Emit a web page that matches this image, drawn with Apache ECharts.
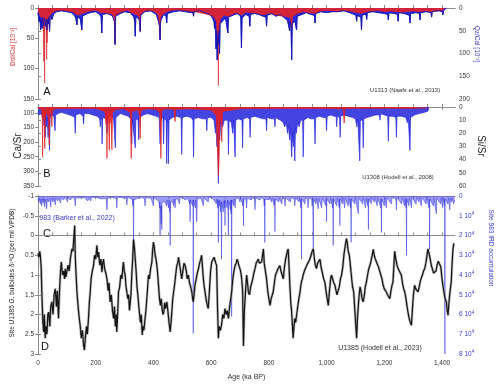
<!DOCTYPE html>
<html>
<head>
  <meta charset="utf-8">
  <script type="text/javascript" src="https://cdn.jsdelivr.net/npm/echarts@6/dist/echarts.min.js"></script>
  <style type="text/css">
    * { margin: 0; padding: 0; }
    html, body, #main { width: 500px; height: 386px; overflow: hidden; background: #fff; }
  </style>
</head>
<body>
  <div id="main"></div>
  <script type="text/javascript">
    // tick positions (ka) and label values
    var ageTicks = [0,50,100,150,200,250,300,350,400,450,500,550,600,650,700,750,800,850,900,950,1000,1050,1100,1150,1200,1250,1300,1350,1400];
    var ageLabels = [0,200,400,600,800,1000,1200,1400];
    var dolTicks = [0,50,100,150];
    var qzTicks = [0,50,100,150,200];
    var caTicks = [100,150,200,250,300,350];
    var siTicks = [0,10,20,30,40,50,60];
    var d18Ticks = [-1,-0.5,0,0.5,1,1.5,2,2.5,3];
    var irdTicks = [0,10000,20000,30000,40000,50000,60000,70000,80000];

    // A: U1313 Dol/Cal (left, 10^-3) and Qz/Cal (right, 10^-3)
    var dolA = [[0,4],[5,10],[10,15],[14,12],[17,18],[19,30],[20,88],[21,30],[22,40],[23,124],[24,35],[27,15],[29,30],[30,85],[31,30],[32,57],[33,20],[37,12],[39,20],[40,39],[41,12],[50,8],[60,5],[80,4],[100,5],[120,6],[130,10],[140,12],[150,10],[160,8],[180,5],[200,4],[220,8],[240,9],[255,10],[262,14],[265,20],[267,60],[269,12],[290,6],[310,4],[330,9],[340,11],[350,14],[353,25],[354,40],[356,10],[375,4],[400,5],[415,10],[420,20],[423,52],[425,15],[440,8],[460,4],[480,3],[500,4],[520,5],[540,6],[560,8],[580,10],[600,12],[610,15],[618,22],[622,50],[624,80],[625,128],[626,60],[628,30],[632,18],[645,12],[660,14],[675,10],[690,8],[705,12],[720,7],[740,8],[760,9],[780,11],[800,9],[820,11],[840,13],[860,14],[875,16],[879,35],[882,14],[900,9],[920,6],[940,8],[960,9],[980,5],[1000,4],[1020,5],[1040,6],[1060,4],[1080,5],[1100,7],[1120,9],[1140,6],[1160,5],[1180,4],[1200,6],[1220,5],[1240,6],[1260,7],[1280,6],[1300,5],[1320,6],[1340,5],[1360,6],[1380,5],[1400,4],[1410,0]];
    var qzA = [[0,10],[4,30],[7,20],[9,48],[11,25],[14,45],[16,20],[20,40],[22,22],[25,30],[27,40],[29,25],[31,48],[33,25],[36,35],[38,20],[40,51],[42,18],[48,25],[55,12],[65,8],[80,6],[100,8],[115,10],[125,15],[131,22],[135,37],[137,18],[147,25],[152,48],[154,18],[165,14],[180,10],[200,8],[215,15],[219,20],[221,55],[223,14],[240,12],[255,16],[262,22],[265,30],[267,80],[269,18],[285,12],[300,8],[320,10],[332,20],[335,28],[337,62],[339,18],[350,25],[352,30],[354,51],[356,16],[370,8],[390,6],[410,14],[418,30],[421,40],[423,70],[425,28],[435,14],[444,18],[446,33],[448,12],[470,8],[490,6],[510,8],[530,10],[537,10],[539,18],[541,8],[560,6],[580,10],[595,14],[605,22],[610,30],[612,45],[614,30],[617,90],[619,50],[621,114],[623,60],[625,80],[627,50],[629,100],[631,35],[640,28],[650,22],[656,25],[658,55],[660,20],[675,16],[690,12],[700,16],[703,22],[705,88],[707,22],[720,14],[732,18],[734,40],[736,14],[750,12],[765,14],[780,18],[790,20],[792,40],[794,16],[810,12],[825,18],[840,14],[855,22],[865,28],[870,30],[872,50],[874,30],[877,40],[879,114],[881,35],[890,28],[894,30],[896,48],[898,18],[915,14],[930,10],[945,14],[958,16],[960,33],[962,12],[980,8],[1000,10],[1020,8],[1039,8],[1041,11],[1060,6],[1080,10],[1095,14],[1102,16],[1104,29],[1106,16],[1119,20],[1121,48],[1123,15],[1137,14],[1139,25],[1141,10],[1160,8],[1180,10],[1200,12],[1212,14],[1214,26],[1216,10],[1235,12],[1246,14],[1248,29],[1250,10],[1270,12],[1287,16],[1289,33],[1291,12],[1310,10],[1322,12],[1324,26],[1326,10],[1345,8],[1362,10],[1364,20],[1366,8],[1390,6],[1401,8],[1403,15],[1405,6],[1410,5],[1415,0]];

    // B: U1308 Ca/Sr (left) and Si/Sr (right)
    var caB = [[0,84],[10,86],[13,95],[15,120],[16,251],[17,110],[20,105],[22,130],[23.5,222],[25,110],[33,100],[37,130],[39,210],[41,105],[46,95],[48,147],[50,92],[60,86],[100,85],[200,85],[232,95],[236,140],[238,120],[239,256],[240,110],[243,115],[245,140],[247,228],[249,120],[252,125],[254,140],[256,226],[258,100],[270,88],[300,86],[320,100],[323,256],[325,95],[345,90],[352,110],[354,187],[356,92],[380,86],[410,88],[422,100],[425,200],[426,256],[428,95],[440,86],[472,88],[475,130],[477,88],[520,86],[560,88],[600,90],[618,110],[621,200],[623,250],[625,314],[627,280],[629,150],[632,110],[635,140],[637,199],[639,95],[700,86],[800,85],[900,85],[1000,85],[1058,86],[1061,135],[1063,86],[1100,84],[1200,84],[1300,84],[1352,83]];
    var siB = [[0,4],[3,6],[6,5],[9,7],[12,5],[15,8],[18,6],[21,14],[23,7],[25,23],[27,9],[30,15],[32,8],[35,23],[37,10],[40,33],[42,8],[48,6],[55,7],[59,18],[61,6],[70,5],[80,4],[95,5],[110,6],[120,7],[127,8],[129,20],[131,6],[145,5],[156,7],[158,13],[160,5],[175,5],[190,6],[205,7],[214,9],[216,15],[218,8],[221,10],[222,28],[224,8],[237,9],[239,20],[241,8],[252,7],[262,9],[266,10],[268,31],[270,8],[285,5],[300,6],[312,7],[323,9],[325,28],[327,9],[333,8],[337,31],[339,9],[347,10],[349,25],[351,8],[365,6],[380,5],[395,6],[410,7],[420,8],[423,28],[425,9],[433,8],[435,28],[437,9],[444,10],[446,43],[448,10],[450,12],[452,43],[454,10],[465,8],[480,7],[496,8],[498,36],[500,8],[515,7],[530,8],[537,10],[539,38],[541,9],[555,8],[570,9],[583,9],[585,18],[587,8],[600,8],[610,10],[615,20],[618,12],[620,30],[622,15],[625,58],[627,20],[630,25],[633,12],[640,15],[645,10],[658,10],[660,36],[662,10],[670,12],[675,20],[678,10],[681,10],[683,38],[685,10],[695,9],[707,10],[709,31],[711,9],[725,8],[733,9],[735,23],[737,8],[750,7],[765,8],[780,9],[790,9],[792,18],[794,8],[810,9],[819,9],[821,15],[823,8],[840,10],[850,12],[855,15],[860,12],[865,20],[868,14],[872,25],[875,16],[879,38],[882,20],[885,30],[887,18],[890,41],[892,16],[895,20],[900,12],[905,15],[910,10],[917,10],[919,38],[921,10],[935,8],[945,9],[958,9],[960,28],[962,8],[975,7],[990,8],[998,8],[1000,18],[1002,7],[1015,6],[1025,7],[1033,7],[1035,15],[1037,7],[1045,8],[1047,23],[1049,7],[1060,6],[1075,7],[1090,8],[1100,9],[1105,15],[1108,9],[1113,10],[1115,41],[1117,10],[1125,10],[1127,31],[1129,9],[1140,8],[1155,7],[1170,6],[1183,6],[1185,10],[1187,5],[1200,6],[1212,7],[1214,26],[1216,7],[1230,7],[1240,8],[1242,23],[1244,7],[1260,7],[1275,8],[1280,12],[1283,8],[1287,9],[1289,33],[1291,8],[1305,6],[1320,5],[1324,5],[1340,4],[1352,3],[1353,0]];

    // C: Site 983 IRD accumulation
    var irdC = [[0,1500],[3,3000],[5,1000],[8,4000],[10,1500],[13,5000],[15,1500],[18,3500],[20,1000],[23,5500],[25,1500],[28,4000],[30,6500],[32,1500],[36,3000],[40,1000],[44,5500],[46,1500],[52,3000],[55,1000],[60,4500],[62,1000],[68,2500],[72,1000],[78,3500],[80,1000],[88,2000],[95,800],[102,3000],[104,800],[112,2000],[118,3000],[120,800],[127,1500],[129,5000],[131,1000],[145,1000],[160,800],[173,2500],[175,3500],[177,800],[183,2500],[185,800],[200,600],[220,1500],[222,600],[236,1200],[239,7000],[241,1000],[255,800],[271,1200],[273,6000],[275,800],[290,800],[306,1200],[308,4500],[310,800],[320,1200],[327,2000],[329,5000],[330,1500],[331,27000],[332,2000],[345,1200],[360,800],[369,1500],[371,5000],[373,800],[392,1200],[398,1200],[400,5000],[402,800],[412,2000],[415,3000],[419,2500],[421,6000],[422,3000],[423,20000],[424,5000],[426,8000],[427,14000],[428,5000],[429,17000],[430,3000],[435,2500],[440,3000],[443,2000],[445,5000],[447,2000],[452,6000],[454,2000],[456,8000],[457,3000],[458,25000],[459,3000],[464,2000],[466,3000],[470,5000],[472,1500],[475,6000],[477,1500],[485,1500],[490,4000],[492,1000],[500,800],[510,2000],[520,1200],[524,2000],[525,4000],[526,2000],[527,13000],[528,2000],[532,2500],[536,5000],[537,2000],[538,69500],[539,2000],[545,6000],[547,2000],[550,13000],[552,1500],[565,1200],[573,5000],[575,1000],[590,3000],[592,800],[600,800],[610,2000],[612,1000],[618,4000],[620,1500],[623,6000],[624,2000],[625,23500],[626,2500],[628,5000],[630,2000],[632,8000],[634,3000],[636,32000],[637,3000],[640,2500],[642,8000],[644,2500],[646,6000],[647,2000],[648,15000],[649,2500],[653,2000],[655,6000],[657,2000],[660,20000],[661,2500],[665,2000],[667,7000],[668,2000],[669,9000],[670,2000],[671,61000],[672,2000],[678,5000],[680,1500],[683,6000],[685,1500],[695,1000],[700,3000],[702,800],[710,5000],[711,1500],[712,15000],[713,1500],[720,1500],[723,6000],[725,1200],[740,2000],[742,800],[750,1500],[752,7000],[754,1000],[770,2000],[772,800],[782,1500],[784,5000],[785,1500],[786,23500],[787,1500],[800,2000],[802,800],[810,3000],[812,1000],[819,5000],[820,1500],[821,18000],[822,1500],[835,3000],[837,1000],[845,4000],[847,1000],[854,1500],[856,5000],[858,1000],[875,3000],[877,800],[888,1500],[890,5000],[892,1000],[905,3000],[907,1000],[911,6000],[912,1500],[913,32000],[914,1500],[925,4000],[927,1000],[934,1500],[936,6000],[938,1000],[948,1500],[950,5000],[952,1500],[954,27000],[955,1500],[963,4000],[965,1000],[971,6500],[973,1200],[983,6000],[985,1000],[990,2000],[998,5000],[999,1500],[1000,13000],[1001,1500],[1012,4000],[1014,1000],[1021,6000],[1022,1500],[1023,25000],[1024,1500],[1035,5000],[1037,1000],[1044,6000],[1045,1500],[1046,15000],[1047,1500],[1055,4000],[1057,1000],[1063,6000],[1065,1000],[1075,5000],[1077,1000],[1083,6000],[1084,1500],[1085,23500],[1086,1500],[1098,4000],[1100,1000],[1110,9000],[1112,1000],[1125,4000],[1127,1000],[1135,6000],[1137,1000],[1143,5000],[1144,1500],[1145,17000],[1146,1500],[1155,4000],[1157,1000],[1165,3000],[1167,800],[1175,5000],[1177,1000],[1188,6000],[1189,1500],[1190,18500],[1191,1500],[1200,5000],[1202,1000],[1207,6000],[1209,1000],[1225,4000],[1227,800],[1240,1500],[1242,7000],[1244,800],[1260,4000],[1262,800],[1270,5000],[1272,1000],[1275,6000],[1276,1500],[1277,30000],[1278,1500],[1285,5000],[1287,1000],[1294,6000],[1296,800],[1310,4000],[1312,800],[1320,3000],[1322,800],[1328,5000],[1330,800],[1345,4000],[1347,800],[1355,6000],[1356,1500],[1357,27000],[1358,1500],[1370,5000],[1372,1000],[1380,9000],[1382,1000],[1395,4000],[1397,1000],[1402,6000],[1404,1000],[1408,5000],[1409,1500],[1410,80000],[1411,1500],[1420,4000],[1422,1000],[1427,7000],[1429,1000],[1433,3000],[1435,800],[1440,4000],[1444,2000]];

    // D: U1385 G. bulloides d18O (per mil VPDB)
    var d18D = [[0,0.45],[3,0.55],[6,0.4],[8,0.5],[11,0.8],[14,1.6],[17,2.2],[19.5,2.44],[22,2.0],[25,2.6],[28,2.3],[31,2.5],[34,2.0],[37,1.94],[41,2.3],[44,1.8],[48,1.68],[52,2.0],[56,1.5],[60,1.35],[64,1.8],[67,1.4],[71,2.1],[74,1.5],[78,0.9],[81,0.67],[85,1.0],[89,0.9],[92,1.1],[94.5,0.84],[97,1.05],[100,1.0],[104,0.75],[108,0.9],[112,0.6],[115,0.45],[117.6,0.34],[121,0.4],[124,0.1],[127,-0.25],[129,0.5],[132,1.0],[135,1.43],[139,1.8],[143,2.1],[146,2.27],[150,2.6],[154,2.4],[158,2.78],[161,2.9],[164,2.6],[168,2.3],[171,2.5],[175,2.1],[178,1.7],[181,1.43],[184,1.1],[188,0.9],[192.5,0.76],[196,0.5],[200,0.6],[204,0.25],[207,0.55],[210,0.42],[214,0.75],[218,0.6],[221.5,0.93],[224,0.7],[227,0.6],[231,0.85],[235,0.95],[239,1.1],[243,1.4],[246,1.2],[250,1.68],[254,1.5],[258,1.9],[262,2.1],[265,1.8],[268,2.3],[271,2.0],[273,2.44],[276,2.0],[279,1.43],[283,1.3],[287,1.0],[291,1.1],[294,0.8],[296,0.67],[299,0.9],[302,1.0],[305,1.3],[308,1.43],[311,1.6],[314,1.5],[317,1.9],[319.5,1.94],[322,1.5],[325,1.0],[328,0.6],[331,0.1],[334,0.3],[337,0.6],[340,0.9],[343,1.3],[346,1.5],[349,1.77],[352,2.0],[355,2.2],[358,2.0],[361,2.52],[364,2.3],[367,2.4],[371,2.1],[374,1.9],[377,1.6],[380,1.3],[383,1.0],[386,1.1],[390,0.85],[394.6,0.67],[397,0.4],[400,0.17],[403,0.3],[406,0.5],[409,0.6],[412,0.76],[415,1.0],[418,1.3],[421,1.6],[424,1.77],[427,1.6],[430,1.85],[433,2.0],[436,1.94],[439,1.7],[442,1.85],[446.5,1.68],[450,1.9],[454,2.2],[458,2.44],[461,2.2],[464,1.9],[467,1.6],[470,1.43],[474,1.2],[477,1.0],[481,0.76],[484,0.7],[487,0.55],[490,0.6],[494,0.9],[498,1.1],[502,0.9],[506,0.7],[510,0.76],[514,0.9],[517,1.1],[521,1.0],[525,1.2],[529,1.3],[533,1.43],[536,1.6],[538,1.68],[541,1.5],[544,1.26],[548,1.1],[552,0.95],[556,0.84],[560,0.7],[564,0.6],[567,0.5],[570,0.8],[573,1.1],[576,1.3],[579,1.43],[582,1.6],[586,1.75],[590,1.85],[594,1.4],[598,0.9],[602,0.67],[606,0.7],[610,0.55],[613,0.6],[616,0.7],[619,0.76],[622,1.8],[625,2.6],[628,2.3],[632,2.4],[636,2.27],[640,2.0],[644,2.1],[648,1.85],[652,2.0],[656,1.9],[660,2.1],[664,1.8],[668,1.6],[671,1.43],[675,1.1],[679,0.9],[683,0.76],[687,0.7],[690,0.6],[694,0.6],[698,0.8],[702,0.9],[706,1.1],[709,1.4],[712,2.8],[715,1.9],[717,1.68],[720,1.3],[723,1.0],[726,1.2],[729,1.43],[733,1.5],[737,1.3],[740,1.26],[744,1.1],[748,0.95],[752,0.84],[756,0.7],[760,0.65],[763,0.6],[767,0.7],[771,0.67],[775,0.67],[778,0.5],[781,0.34],[784,0.7],[788,0.9],[792,1.1],[796,1.4],[800,1.6],[804,1.77],[808,1.6],[812,1.5],[815,1.43],[819,1.2],[823,1.0],[827,0.93],[831,0.85],[835,0.8],[838,0.76],[842,0.9],[846,1.0],[850,1.1],[854,0.8],[858,0.6],[861,0.5],[864,0.4],[867,0.34],[870,0.8],[873,1.3],[876,1.7],[879,1.94],[882,2.3],[884,2.6],[887,2.3],[890,2.1],[893,2.2],[896,2.02],[900,1.8],[904,1.6],[908,1.43],[912,1.2],[916,1.1],[919,1.0],[923,0.9],[927,0.85],[931,0.76],[935,0.7],[938,0.65],[942,0.6],[946,0.5],[950,0.4],[954,0.34],[958,0.6],[961,0.75],[965,0.84],[969,0.7],[973,0.65],[977,0.6],[981,0.8],[983,0.84],[987,1.0],[990,1.1],[994,1.18],[998,1.4],[1002,1.6],[1006,1.77],[1010,1.4],[1014,1.1],[1017,1.0],[1021,1.1],[1025,1.2],[1029,1.26],[1033,1.4],[1036,1.5],[1040,1.51],[1044,1.3],[1048,1.1],[1052,1.0],[1056,0.8],[1060,0.5],[1063,0.34],[1066,0.2],[1069,0.08],[1072,0.2],[1075,0.4],[1079,0.5],[1083,0.8],[1087,1.1],[1090,1.3],[1094,1.43],[1098,1.9],[1104,2.6],[1107,2.1],[1110,1.77],[1113,1.5],[1116,1.3],[1119,1.4],[1123,1.6],[1127,1.68],[1131,1.5],[1134,1.3],[1138,1.18],[1142,1.0],[1146,0.85],[1150,0.76],[1154,0.65],[1158,0.5],[1162,0.35],[1165,0.5],[1169,0.6],[1173,0.67],[1177,0.7],[1180,0.8],[1184,0.84],[1188,1.0],[1192,1.1],[1196,1.26],[1200,1.35],[1204,1.4],[1207,1.43],[1211,1.5],[1215,1.55],[1219,1.6],[1223,1.4],[1227,1.25],[1230,1.18],[1233,0.8],[1236,0.4],[1240,0.6],[1244,0.75],[1248,0.84],[1252,0.9],[1256,0.95],[1259,1.0],[1263,1.2],[1267,1.35],[1271,1.43],[1275,1.6],[1279,1.8],[1282,1.94],[1286,2.1],[1290,2.2],[1294,2.27],[1298,1.8],[1301,1.5],[1305,1.26],[1309,1.35],[1313,1.4],[1317,1.43],[1321,1.3],[1325,1.15],[1328,1.1],[1332,1.0],[1336,0.9],[1340,0.84],[1344,0.7],[1348,0.5],[1351,0.34],[1355,0.45],[1359,0.6],[1363,0.76],[1367,0.85],[1371,0.95],[1375,1.0],[1379,0.9],[1383,0.75],[1387,0.65],[1392,0.6],[1396,0.8],[1400,1.1],[1403,1.26],[1407,1.45],[1411,1.6],[1415,1.68],[1418,1.9],[1421,2.02],[1424,1.7],[1428,1.4],[1432,1.18],[1435,0.7],[1438,0.34],[1441,0.2]];

    var axisGrey = '#8c8c8c';
    var labelFont = { fontFamily: 'Liberation Sans', fontSize: 6.5, color: '#333' };

    function ageAxis(gridIndex, position, withLabels) {
      return {
        type: 'value', gridIndex: gridIndex, position: position,
        min: 0, max: 1445,
        axisLine: { lineStyle: { color: axisGrey, width: 1 } },
        axisTick: { inside: true, length: 3, customValues: ageTicks, lineStyle: { color: axisGrey } },
        axisLabel: withLabels
          ? Object.assign({ show: true, customValues: ageLabels, margin: 6 }, labelFont)
          : { show: false },
        splitLine: { show: false },
        name: withLabels ? 'Age (ka BP)' : '',
        nameLocation: 'middle', nameGap: 20,
        nameTextStyle: { fontFamily: 'Liberation Sans', fontSize: 7, color: '#333' }
      };
    }

    function valAxis(gridIndex, position, min, max, ticks, color, formatter, rich) {
      var lab = Object.assign({ customValues: ticks, margin: 4, showMinLabel: true, showMaxLabel: true, hideOverlap: false }, labelFont);
      if (color) lab.color = color;
      if (formatter) lab.formatter = formatter;
      if (rich) lab.rich = rich;
      return {
        type: 'value', gridIndex: gridIndex, position: position,
        min: min, max: max, inverse: true,
        axisLine: { show: true, lineStyle: { color: axisGrey, width: 1 } },
        axisTick: { show: true, length: 3, customValues: ticks, lineStyle: { color: axisGrey } },
        axisLabel: lab,
        splitLine: { show: false }
      };
    }

    function spikeArea(name, data, xi, yi, lineColor, lineWidth, fillColor, fillOpacity, z) {
      return {
        name: name, type: 'line', data: data, xAxisIndex: xi, yAxisIndex: yi,
        showSymbol: false, symbol: 'none', z: z,
        lineStyle: { color: lineColor, width: lineWidth },
        areaStyle: fillColor ? { color: fillColor, opacity: fillOpacity, origin: 'start' } : undefined
      };
    }

    function rotText(text, x, y, rot, size, color) {
      return {
        type: 'text', x: x, y: y, rotation: rot,
        style: { text: text, fill: color, font: size + 'px "Liberation Sans"', textAlign: 'center', textVerticalAlign: 'middle' }
      };
    }

    var option = {
      animation: false,
      backgroundColor: '#fff',
      grid: [
        { left: 38, right: 45, top: 8, height: 91 },
        { left: 38, right: 45, top: 107, height: 79 },
        { left: 38, right: 45, top: 196, height: 158 }
      ],
      xAxis: [
        ageAxis(0, 'bottom', false), ageAxis(0, 'top', false),
        ageAxis(1, 'bottom', false), ageAxis(1, 'top', false),
        ageAxis(2, 'bottom', true), ageAxis(2, 'top', false)
      ],
      yAxis: [
        valAxis(0, 'left', 0, 150, dolTicks),
        valAxis(0, 'right', 0, 200, qzTicks),
        valAxis(1, 'left', 80, 350, caTicks),
        valAxis(1, 'right', 0, 60, siTicks),
        valAxis(2, 'left', -1, 3, d18Ticks),
        valAxis(2, 'right', 0, 80000, irdTicks, '#3b3bd6', function (v) {
          return v === 0 ? '0' : (v / 10000) + ' 10{s|4}';
        }, { s: { fontSize: 4.5, color: '#3b3bd6', verticalAlign: 'top', padding: [0, 0, 4, 0] } })
      ],
      series: [
        spikeArea('Qz/Cal', qzA, 0, 1, '#1414b4', 0.8, '#2a2ae4', 1, 2),
        spikeArea('Dol/Cal', dolA, 0, 0, '#d8242c', 0.6, '#e2242a', 0.92, 3),
        spikeArea('Qz/Cal outline', qzA, 0, 1, '#1616b8', 0.8, null, 0, 4),
        spikeArea('Si/Sr', siB, 2, 3, '#2a2ae0', 0.7, '#2323dd', 0.85, 2),
        spikeArea('Ca/Sr', caB, 2, 2, '#e32020', 0.7, '#e32020', 0.9, 3),
        spikeArea('IRD', irdC, 4, 5, 'rgba(50,50,228,0.85)', 0.6, '#5a5af0', 0.6, 2),
        {
          name: 'd18O envelope', type: 'line', data: d18D, xAxisIndex: 4, yAxisIndex: 4,
          showSymbol: false, symbol: 'none', z: 3,
          lineStyle: { color: '#9a9a9a', width: 2.6, opacity: 0.7 }
        },
        {
          name: 'd18O', type: 'line', data: d18D, xAxisIndex: 4, yAxisIndex: 4,
          showSymbol: false, symbol: 'none', z: 4,
          lineStyle: { color: '#141414', width: 1.2 }
        }
      ],
      graphic: [
        rotText('Dol/Cal [10⁻³]', 13, 47, Math.PI / 2, 6.5, '#e0282c'),
        rotText('Qz/Cal [10⁻³]', 477, 44, -Math.PI / 2, 6.5, '#3b3bd6'),
        rotText('Ca/Sr', 18, 146, Math.PI / 2, 10, '#222'),
        rotText('Si/Sr', 481, 146, -Math.PI / 2, 10, '#222'),
        rotText('Site U1385 G. bulloides δ¹⁸O (per mil VPDB)', 12, 273, Math.PI / 2, 6.5, '#222'),
        rotText('Site 983 IRD accumulation', 491, 248, -Math.PI / 2, 6.5, '#3b3bd6'),
        rotText('A', 47, 92, 0, 11, '#111'),
        rotText('B', 47, 174, 0, 11, '#111'),
        rotText('C', 47, 234, 0, 11, '#111'),
        rotText('D', 45, 347, 0, 11, '#111'),
        rotText('U1313 (Naafs et al., 2013)', 405, 90, 0, 6, '#333'),
        rotText('U1308 (Hodell et al., 2008)', 398, 177, 0, 6, '#333'),
        rotText('983 (Barker et al., 2022)', 77, 218, 0, 7, '#3b3bd6'),
        rotText('U1385 (Hodell et al., 2023)', 380, 348, 0, 7, '#333')
      ]
    };

    var chart = echarts.init(document.getElementById('main'), null, { renderer: 'canvas' });
    chart.setOption(option);
  </script>
</body>
</html>
